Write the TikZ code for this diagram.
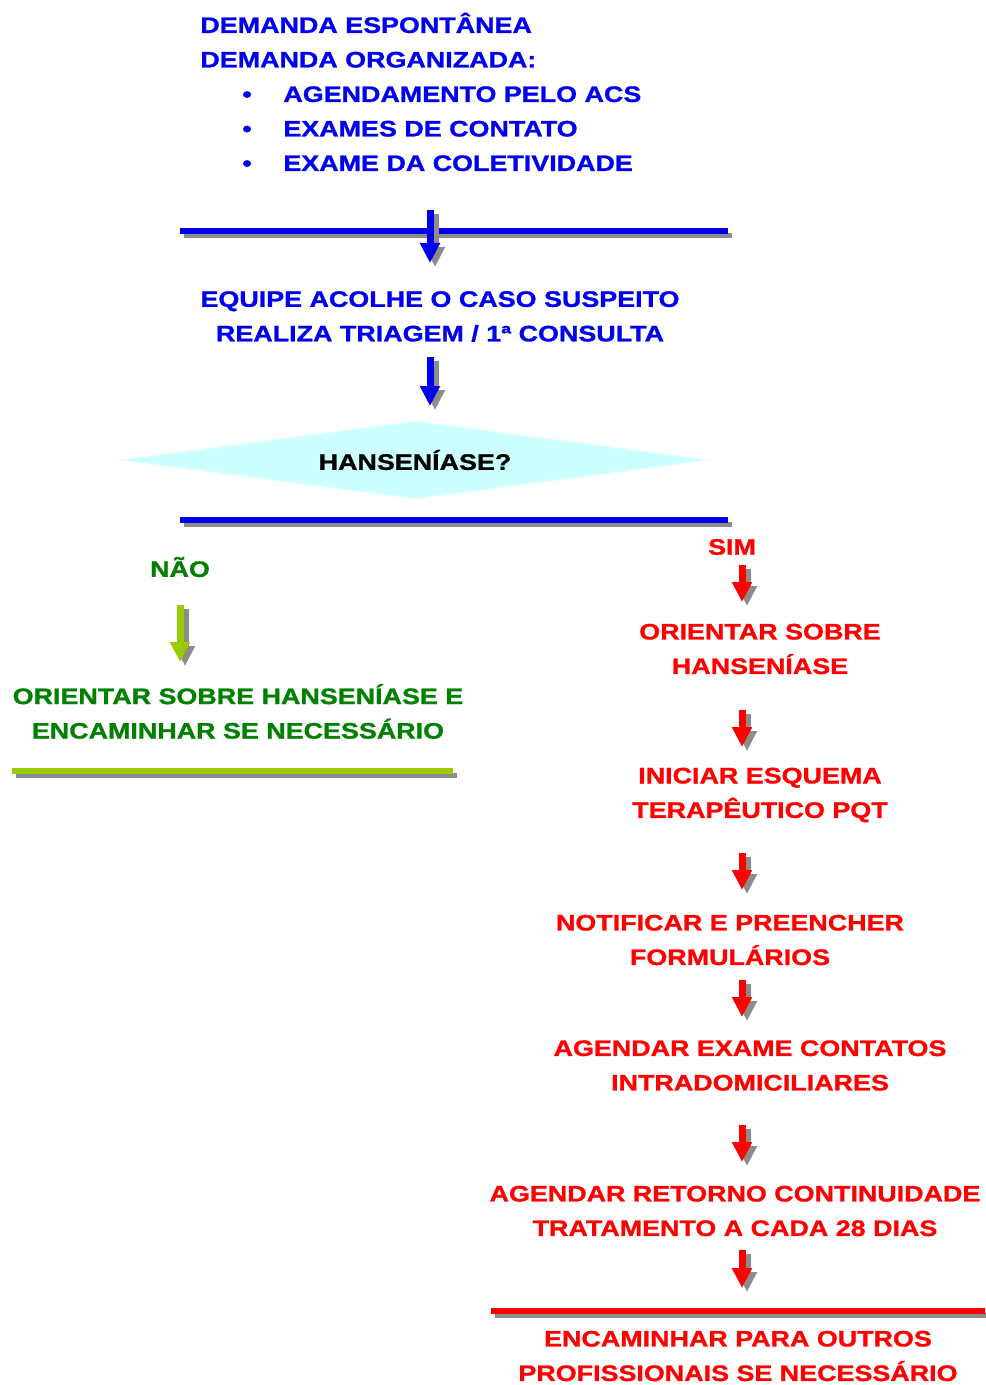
\documentclass[tikz,border=0pt]{standalone}
\usepackage{fontspec}
\usepackage{tikz}
\usetikzlibrary{arrows.meta,shapes.geometric}
\newfontfamily\flowfont{Liberation Sans Bold}[FakeStretch=1.2,FakeBold=1.2]
\newcommand\flowsize{\flowfont\fontsize{11.2pt}{17.25pt}\selectfont}
\newcommand\flowitem{\makebox[41.5pt][l]{\hspace{21pt}\textbullet}}
\definecolor{flowblue}{HTML}{0000EE}
\definecolor{flowred}{HTML}{FF0000}
\definecolor{flowgreen}{HTML}{008000}
\definecolor{flowlime}{HTML}{99CC00}
\definecolor{flowcyan}{HTML}{CCFFFF}
\definecolor{shadowgray}{HTML}{8C8C8C}
\tikzset{
	lbl/.style={font=\flowsize, align=center, inner sep=0pt},
	bluetxt/.style={lbl, text=flowblue},
	redtxt/.style={lbl, text=flowred},
	greentxt/.style={lbl, text=flowgreen},
	flowarrow/.style={line width=3.5pt, -{Triangle[width=9.5pt,length=10pt]},
		preaction={draw=shadowgray, line width=3.5pt, transform canvas={xshift=2.5pt,yshift=-2pt}}},
	flowbar/.style={line width=2.75pt,
		preaction={draw=shadowgray, line width=2.75pt, transform canvas={xshift=2pt,yshift=-2.25pt}}},
}
\begin{document}
\begin{tikzpicture}[x=0.5pt,y=-0.5pt]
	\useasboundingbox (0,0) rectangle (985,1385);
	% entrada
	\node[bluetxt, align=left, anchor=west] (demanda) at (200,92)
		{DEMANDA ESPONTÂNEA\\DEMANDA ORGANIZADA:\\
		\flowitem AGENDAMENTO PELO ACS\\
		\flowitem EXAMES DE CONTATO\\
		\flowitem EXAME DA COLETIVIDADE};
	\coordinate (bar1w) at (180,231);
	\coordinate (bar1e) at (728,231);
	\draw[flowbar, flowblue] (bar1w) -- (bar1e);
	\coordinate (a1s) at (430,210);
	\coordinate (a1e) at (430,263);
	\draw[flowarrow, flowblue] (a1s) -- (a1e);
	\node[bluetxt] (acolhe) at (440,316.5)
		{EQUIPE ACOLHE O CASO SUSPEITO\\REALIZA TRIAGEM / 1ª CONSULTA};
	\coordinate (a2s) at (430,357);
	\coordinate (a2e) at (430,406);
	\draw[flowarrow, flowblue] (a2s) -- (a2e);
	% decisao
	\node[diamond, fill=flowcyan, draw=flowcyan!40, inner sep=0pt, aspect=7.5,
		minimum width=295pt, minimum height=39pt, lbl, text=black] (hans) at (415,460)
		{HANSENÍASE?};
	\coordinate (bar2w) at (180,520);
	\coordinate (bar2e) at (728,520);
	\draw[flowbar, flowblue] (bar2w) -- (bar2e);
	% ramo nao
	\node[greentxt] (nao) at (180,567) {NÃO};
	\coordinate (g1s) at (180,605);
	\coordinate (g1e) at (180,662);
	\draw[flowarrow, flowlime] (g1s) -- (g1e);
	\node[greentxt] (orientnao) at (238,711.5)
		{ORIENTAR SOBRE HANSENÍASE E\\ENCAMINHAR SE NECESSÁRIO};
	\coordinate (bar3w) at (12,771);
	\coordinate (bar3e) at (453,771);
	\draw[flowbar, flowlime] (bar3w) -- (bar3e);
	% ramo sim
	\node[redtxt] (sim) at (732,547) {SIM};
	\foreach \ya/\yb [count=\i] in {565/602, 710/747, 853/890, 980/1017, 1125/1162, 1250/1288} {
		\coordinate (r\i s) at (742,\ya);
		\coordinate (r\i e) at (742,\yb);
		\draw[flowarrow, flowred] (r\i s) -- (r\i e);
	}
	\node[redtxt] (orientsim) at (760,649) {ORIENTAR SOBRE\\HANSENÍASE};
	\node[redtxt] (pqt) at (760,795) {INICIAR ESQUEMA\\TERAPÊUTICO PQT};
	\node[redtxt] (notif) at (730,940) {NOTIFICAR E PREENCHER\\FORMULÁRIOS};
	\node[redtxt] (contatos) at (750,1065.5) {AGENDAR EXAME CONTATOS\\INTRADOMICILIARES};
	\node[redtxt] (retorno) at (735,1211) {AGENDAR RETORNO CONTINUIDADE\\TRATAMENTO A CADA 28 DIAS};
	\coordinate (bar4w) at (491,1311);
	\coordinate (bar4e) at (985,1311);
	\draw[flowbar, flowred] (bar4w) -- (bar4e);
	\node[redtxt] (encam) at (738,1356) {ENCAMINHAR PARA OUTROS\\PROFISSIONAIS SE NECESSÁRIO};
\end{tikzpicture}
\end{document}
